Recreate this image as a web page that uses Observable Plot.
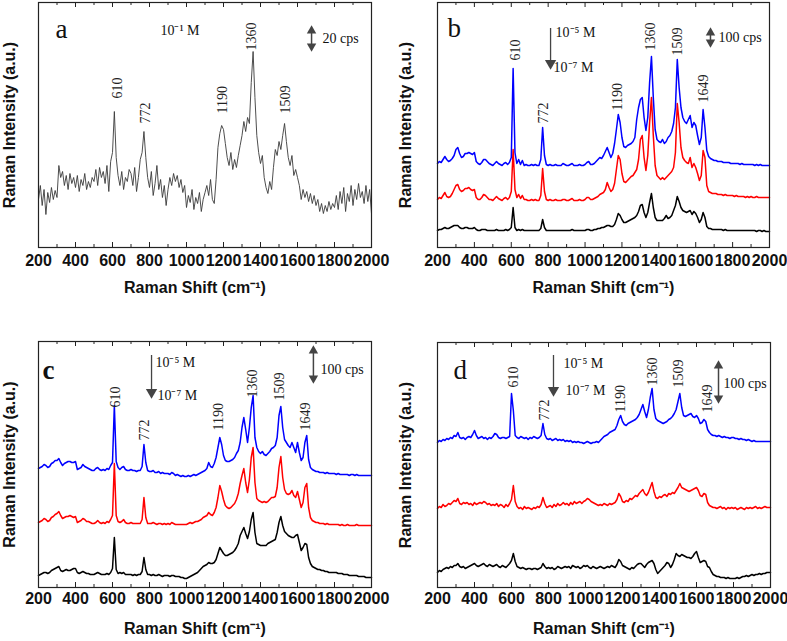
<!DOCTYPE html>
<html><head><meta charset="utf-8">
<script src="https://cdn.jsdelivr.net/npm/d3@7"></script>
<script src="https://cdn.jsdelivr.net/npm/@observablehq/plot@0.6"></script>
<style>
body{margin:0;background:#fff}
#wrap{position:relative;width:787px;height:641px;background:#fff}
#wrap svg{position:absolute;background:transparent}
</style></head><body><div id="wrap"></div><script>
// Raman shift sampling grid (cm-1)
const shifts = d3.range(200, 2001, 10);
const xTicks = [200,400,600,800,1000,1200,1400,1600,1800,2000];
const minorTicks = [300,500,700,900,1100,1300,1500,1700,1900];
const peakLabels = ["610","772","1190","1360","1509","1649"];
const panelLetters = ["a","b","c","d"];
const concHigh = ["10\u207B\u00B9 M","10\u207B\u2075 M","10\u207B\u2075 M","10\u207B\u2075 M"];
const concLow = "10\u207B\u2077 M";
const scaleBars = ["20 cps","100 cps","100 cps","100 cps"];

// panel a: 10^-1 M
const specA = [48,62,42,58,33,55,45,60,48,57,
 50,82,70,76,62,72,58,74,64,70,
 60,72,56,68,62,74,58,66,60,70,
 66,78,62,80,70,76,64,82,56,86,
 95,136,90,72,62,76,58,70,66,78,
 74,62,80,56,70,88,95,116,90,70,
 60,76,52,64,82,58,68,50,62,42,
 58,70,62,74,66,72,60,68,55,62,
 40,52,45,58,38,50,44,55,36,48,
 55,62,52,68,48,44,68,100,114,122,
 118,104,90,82,95,78,88,80,92,102,
 112,126,116,130,124,165,196,150,112,95,
 84,92,70,60,54,66,58,80,98,92,
 106,98,112,124,106,90,82,92,72,78,
 70,62,48,58,50,56,46,54,44,52,
 42,48,36,44,34,42,36,46,38,44,
 40,52,38,56,44,60,36,54,46,62,
 42,58,48,64,50,56,44,62,46,58,
 34];

// panel b
const bBlue = [84,86,85,88,91,88,86,87,89,92,
 98,100,94,90,91,94,94,95,94,93,
 95,86,84,83,85,88,88,86,84,83,
 82,84,86,84,83,82,84,85,83,85,
 90,179,95,84,88,83,87,82,83,82,
 82,83,82,83,82,82,88,120,92,83,
 82,83,82,82,83,82,82,82,84,83,
 82,82,83,84,82,82,82,83,82,82,
 83,85,86,83,83,84,86,88,90,89,
 92,96,100,95,90,94,104,118,133,125,
 110,101,100,102,103,104,106,110,128,140,
 148,150,130,117,130,165,191,150,118,108,
 106,105,108,104,106,110,112,116,124,140,
 188,160,140,130,126,124,128,132,120,125,
 122,112,103,110,138,120,97,91,89,88,
 87,87,86,86,86,85,85,85,85,84,
 84,84,84,84,83,84,83,83,83,83,
 83,83,82,83,82,83,82,82,82,82,
 82];
const bRed = [48,50,49,52,55,51,50,51,54,58,
 62,63,58,56,57,59,59,60,58,57,
 58,50,48,48,50,53,52,50,48,48,
 47,49,51,49,48,47,49,50,48,50,
 56,98,58,50,53,49,52,48,48,47,
 47,48,47,48,47,47,52,79,56,48,
 47,48,47,47,48,47,47,47,48,48,
 47,47,48,49,47,47,47,48,47,47,
 48,50,50,48,48,49,50,51,53,54,
 55,58,65,60,56,58,64,78,92,88,
 74,66,65,67,69,71,72,75,78,88,
 108,112,90,77,92,125,150,112,82,72,
 70,68,70,68,70,72,74,76,80,95,
 144,125,100,90,87,85,84,90,80,84,
 80,74,67,72,97,90,62,56,55,54,
 54,54,53,53,53,52,53,52,52,52,
 52,51,52,51,51,51,51,50,51,50,
 51,50,50,51,50,50,50,50,50,50,
 50];
const bBlack = [17,18,18,19,20,19,19,20,21,22,
 22,22,20,19,19,20,20,19,19,19,
 20,18,17,17,18,18,18,17,17,17,
 17,17,18,17,17,17,17,18,17,18,
 20,40,20,17,18,17,18,17,17,17,
 17,17,17,17,17,17,19,28,20,17,
 17,17,17,17,17,17,17,17,17,17,
 17,17,17,18,17,17,17,17,17,17,
 17,18,18,17,17,18,18,19,19,20,
 20,21,22,22,21,21,23,28,34,32,
 28,25,25,26,27,28,29,30,32,36,
 42,43,35,30,35,45,54,40,30,27,
 27,27,27,29,32,29,30,32,37,42,
 51,46,40,37,36,35,36,37,33,36,
 34,30,25,28,35,30,21,19,19,18,
 18,18,18,18,18,17,18,17,17,17,
 17,17,17,17,17,17,17,17,17,17,
 17,17,17,16,17,17,16,17,16,16,
 16];

// panel c
const cBlue = [119,120,121,123,122,120,121,124,125,127,
 127,129,125,122,124,125,126,126,125,125,
 126,118,119,120,123,121,120,119,118,117,
 117,119,120,118,117,118,117,119,118,122,
 125,182,126,120,118,120,121,118,117,117,
 118,117,117,116,117,117,121,143,125,117,
 116,116,117,115,115,116,114,115,114,114,
 114,113,115,114,112,113,112,111,112,111,
 111,112,111,112,113,112,113,114,115,116,
 117,119,125,121,120,124,130,140,150,143,
 132,127,126,126,127,128,130,134,137,145,
 160,170,158,145,160,180,192,150,140,136,
 134,136,133,132,134,136,139,140,142,150,
 172,181,160,148,145,142,140,145,140,135,
 145,135,127,130,145,152,128,120,118,117,
 116,116,115,115,115,114,115,114,114,114,
 114,113,114,113,113,113,113,113,112,113,
 113,112,113,112,112,112,112,112,112,112,
 112];
const cRed = [65,66,67,69,68,66,67,70,71,73,
 74,76,72,69,70,71,71,72,71,70,
 71,65,66,67,69,68,66,66,65,64,
 64,65,67,65,64,65,64,66,65,68,
 72,124,72,66,65,66,68,65,64,64,
 65,64,64,64,64,64,68,90,70,64,
 64,64,65,64,63,64,64,63,64,63,
 64,63,65,64,63,63,63,63,63,63,
 63,64,65,64,65,66,66,67,68,70,
 71,72,75,73,72,75,80,90,102,96,
 88,82,80,79,80,82,84,88,94,104,
 112,119,105,95,108,130,140,105,89,87,
 86,85,86,85,86,88,90,90,91,100,
 120,131,110,98,94,93,94,97,92,90,
 96,88,80,85,100,104,80,70,67,66,
 65,65,64,64,64,63,64,63,63,63,
 63,63,63,62,63,62,62,63,62,62,
 62,62,63,62,62,62,62,62,62,62,
 62];
const cBlack = [12,13,14,15,15,14,15,17,18,19,
 20,21,17,16,17,18,17,17,18,19,
 19,15,14,15,16,15,14,14,13,13,
 13,14,15,14,13,13,13,14,13,15,
 19,50,18,14,15,14,15,13,13,13,
 13,12,13,12,13,13,16,30,18,13,
 13,12,13,12,12,13,12,11,12,12,
 12,11,12,12,11,11,11,10,10,9,
 9,10,11,12,13,14,15,17,19,21,
 22,23,25,24,24,25,28,34,40,37,
 34,32,32,33,34,35,37,40,44,52,
 56,60,54,49,56,68,75,55,44,43,
 42,42,42,42,44,45,46,47,48,55,
 65,71,62,56,54,52,51,50,50,52,
 53,45,37,40,44,43,30,24,21,20,
 19,18,18,17,17,16,16,15,15,15,
 15,15,14,14,14,13,13,13,12,12,
 12,12,12,11,11,11,11,10,10,10,
 10];

// panel d
const dBlue = [145,147,146,148,147,149,148,150,149,152,
 151,155,150,149,150,148,150,151,150,153,
 157,152,149,150,151,149,150,148,150,149,
 151,154,153,150,149,150,150,149,150,151,
 194,177,152,150,149,151,150,149,150,148,
 150,149,151,150,149,150,152,164,153,149,
 148,149,147,148,149,147,148,147,148,146,
 147,146,147,145,146,145,146,145,145,144,
 145,146,145,144,145,145,146,145,147,149,
 151,152,153,155,156,157,158,162,168,172,
 166,163,162,164,165,166,167,168,170,173,
 178,183,176,170,178,190,199,178,169,167,
 166,165,164,165,166,168,169,171,174,178,
 186,194,180,172,171,172,173,174,171,170,
 172,169,164,165,168,166,158,155,153,152,
 152,151,152,151,150,151,150,150,149,150,
 150,149,149,148,149,148,148,147,148,147,
 146,147,146,146,146,146,146,146,146,146,
 146];
const dRed = [79,81,80,83,81,82,84,83,85,87,
 86,89,84,83,85,84,85,83,84,82,
 85,83,84,85,84,86,85,83,84,82,
 83,82,84,81,83,82,80,83,81,84,
 88,102,86,81,79,80,78,81,79,80,
 79,78,80,79,81,80,83,90,84,80,
 81,82,80,83,81,84,82,83,85,83,
 84,82,85,83,86,84,85,86,84,86,
 87,89,88,86,85,84,83,82,83,82,
 84,83,82,84,83,84,85,88,94,91,
 86,85,87,86,89,88,90,92,91,94,
 96,98,94,92,95,100,105,96,90,89,
 91,90,92,93,91,94,93,95,94,97,
 100,104,100,99,98,97,96,97,98,99,
 100,97,92,91,94,93,85,82,81,80,
 80,79,80,81,79,80,78,80,79,80,
 79,80,78,79,80,79,78,80,79,80,
 79,80,81,79,80,79,80,81,80,80,
 80];
const dBlack = [15,17,16,18,19,20,19,21,20,22,
 22,24,21,20,21,19,20,21,22,23,
 24,22,21,22,23,24,22,21,23,22,
 21,22,23,21,20,22,21,20,22,24,
 27,34,26,21,20,19,20,19,18,19,
 19,18,19,19,18,19,20,24,21,19,
 20,19,20,18,19,21,20,19,20,21,
 20,21,19,22,21,20,21,19,20,22,
 21,22,20,19,21,20,19,20,21,20,
 19,20,21,20,22,21,20,23,28,26,
 22,21,20,19,18,20,19,21,23,24,
 24,22,20,23,25,26,27,24,18,14,
 16,18,20,22,25,24,20,23,28,34,
 32,31,33,32,31,30,30,29,31,34,
 36,30,25,26,27,26,21,20,16,13,
 12,11,11,10,10,10,9,10,9,9,
 9,9,10,9,10,11,11,12,11,12,
 13,12,13,13,14,13,14,14,15,15,
 15];

const serif = "'Liberation Serif', 'Times New Roman', serif";
const sans = "'Liberation Sans', Arial, sans-serif";
const BLUE = "#0000ff", RED = "#ff0000", BLACK = "#000000";

// layout of the four panels
const panels = [
 {left:0, top:0, width:390, height:300, ml:38, mr:19, mt:2, mb:53, tickPad:7, xtDy:40, xtDx:-10, ytDx:-29,
  series:[{v:specA, c:"#3a3a3a", w:0.9}],
  letter:{x:292, y:218, bold:false},
  conc:[{x:859, y:216.5, t:0}], down:null,
  dbl:{x:1676, top:222, bot:196}, bar:{x:1735, y:208.5},
  peaks:[[627,149],[778,124],[1195,134],[1351,197],[1535,134]]},
 {left:390, top:0, width:397, height:300, ml:47, mr:18, mt:2, mb:53, tickPad:7, xtDy:40, xtDx:0, ytDx:-32,
  series:[{v:bBlack, c:BLACK, w:1.5},{v:bRed, c:RED, w:1.5},{v:bBlue, c:BLUE, w:1.5}],
  letter:{x:254, y:219, bold:false},
  conc:[{x:840, y:214.5, t:1},{x:829, y:179.5, t:-1}], down:{x:813, top:219, tip:179},
  dbl:{x:1680, top:220, bot:200}, bar:{x:1724, y:209.5},
  peaks:[[623,187],[775,124],[1176,137],[1355,197],[1501,192],[1642,145]]},
 {left:0, top:300, width:390, height:341, ml:38, mr:19, mt:41, mb:54, tickPad:5, xtDy:41, xtDx:-10, ytDx:-29,
  series:[{v:cBlack, c:BLACK, w:1.5},{v:cRed, c:RED, w:1.5},{v:cBlue, c:BLUE, w:1.5}],
  letter:{x:222, y:217, bold:true},
  conc:[{x:832, y:224.5, t:2},{x:843, y:191.5, t:-1}], down:{x:811, top:232, tip:190},
  dbl:{x:1686, top:242, bot:204}, bar:{x:1724, y:217.5},
  peaks:[[616,180],[773,147],[1173,157],[1357,190],[1503,187],[1643,157]]},
 {left:390, top:300, width:397, height:341, ml:47, mr:17, mt:42, mb:54, tickPad:5, xtDy:41, xtDx:0, ytDx:-32,
  series:[{v:dBlack, c:BLACK, w:1.5},{v:dRed, c:RED, w:1.5},{v:dBlue, c:BLUE, w:1.5}],
  letter:{x:286, y:217, bold:false},
  conc:[{x:881, y:223.5, t:3},{x:892, y:196.5, t:-1}], down:{x:827, top:232, tip:192},
  dbl:{x:1719, top:227, bot:184}, bar:{x:1746, y:203.5},
  peaks:[[611,200],[778,167],[1189,175],[1362,202],[1503,200],[1659,175]]}
];

const wrap = document.getElementById("wrap");
const triR = 3.5, triOff = 5.2, arrowCol = "#444";

panels.forEach((p, k) => {
  const H = p.height - p.mt - p.mb;
  const marks = [];
  for (const s of p.series) {
    marks.push(Plot.line(shifts.map((x, i) => ({x, y: s.v[i]})), {x: "x", y: "y", stroke: s.c, strokeWidth: s.w}));
  }
  marks.push(Plot.frame({stroke: "#222", strokeWidth: 1.2}));
  marks.push(Plot.ruleX(xTicks, {y1: 0, y2: 5, stroke: "#222"}));
  marks.push(Plot.ruleX(xTicks, {y1: H - 5, y2: H, stroke: "#222"}));
  marks.push(Plot.ruleX(minorTicks, {y1: 0, y2: 3, stroke: "#222"}));
  marks.push(Plot.ruleX(minorTicks, {y1: H - 3, y2: H, stroke: "#222"}));
  marks.push(Plot.axisX(xTicks, {tickSize: 0, tickPadding: p.tickPad, tickFormat: d3.format("d"), label: null,
    fontSize: 16, fontWeight: "bold", fontFamily: sans, fill: "#111"}));
  marks.push(Plot.text(["Raman Shift (cm\u207B\u00B9)"], {frameAnchor: "bottom", dy: p.xtDy, dx: p.xtDx,
    lineAnchor: "middle", fontSize: 16, fontWeight: "bold", fontFamily: sans, fill: "#111"}));
  marks.push(Plot.text(["Raman Intensity (a.u.)"], {frameAnchor: "left", dx: p.ytDx, rotate: -90,
    lineAnchor: "middle", textAnchor: "middle", fontSize: 16, fontWeight: "bold", fontFamily: sans, fill: "#111"}));
  // panel letter
  marks.push(Plot.text([panelLetters[k]], {x: p.letter.x, y: p.letter.y, textAnchor: "start", lineAnchor: "middle",
    fontSize: 27, fontFamily: serif, fontWeight: p.letter.bold ? "bold" : "normal", fill: "#111"}));
  // concentrations
  marks.push(Plot.text(p.conc, {x: "x", y: "y", text: d => d.t < 0 ? concLow : concHigh[d.t], textAnchor: "start",
    lineAnchor: "middle", fontSize: 14, fontFamily: serif, fill: "#111"}));
  // scale bar label
  marks.push(Plot.text([scaleBars[k]], {x: p.bar.x, y: p.bar.y, textAnchor: "start", lineAnchor: "middle",
    fontSize: 14, fontFamily: serif, fill: "#111"}));
  // peak labels
  const peaks = p.peaks.map((pos, i) => ({t: peakLabels[i], x: pos[0], y: pos[1]}));
  marks.push(Plot.text(peaks, {x: "x", y: "y", text: "t", rotate: -90, textAnchor: "start", lineAnchor: "middle",
    fontSize: 14, fontFamily: serif, fill: "#222"}));
  // double-headed scale arrow
  marks.push(Plot.ruleX([p.dbl.x], {y1: p.dbl.bot + triOff, y2: p.dbl.top - triOff, stroke: arrowCol, strokeWidth: 1.5}));
  marks.push(Plot.dot([p.dbl.x], {x: d => d, y: p.dbl.top - triOff, symbol: "triangle", r: triR, fill: arrowCol, stroke: "none"}));
  marks.push(Plot.dot([p.dbl.x], {x: d => d, y: p.dbl.bot + triOff, symbol: "triangle", rotate: 180, r: triR, fill: arrowCol, stroke: "none"}));
  // concentration arrow
  if (p.down) {
    marks.push(Plot.ruleX([p.down.x], {y1: p.down.tip + triOff, y2: p.down.top, stroke: arrowCol, strokeWidth: 1.3}));
    marks.push(Plot.dot([p.down.x], {x: d => d, y: p.down.tip + triOff, symbol: "triangle", rotate: 180, r: 4.2, fill: arrowCol, stroke: "none"}));
  }
  const svg = Plot.plot({
    width: p.width, height: p.height,
    marginLeft: p.ml, marginRight: p.mr, marginTop: p.mt, marginBottom: p.mb,
    x: {domain: [200, 2000], label: null},
    y: {domain: [0, H], axis: null},
    marks
  });
  svg.style.left = p.left + "px";
  svg.style.top = p.top + "px";
  wrap.appendChild(svg);
});
</script></body></html>
